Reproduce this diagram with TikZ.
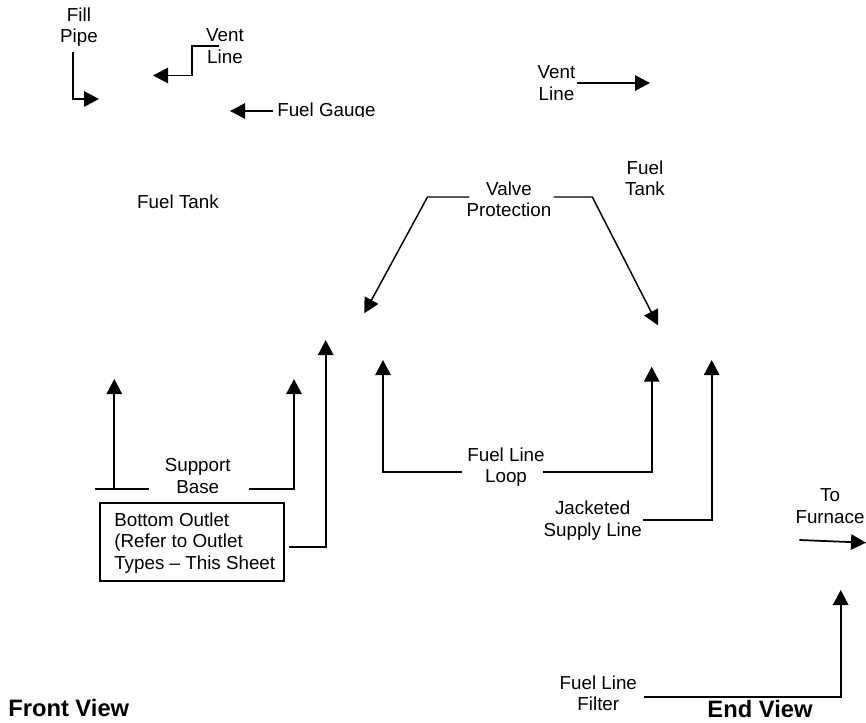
\documentclass[tikz,border=0pt]{standalone}
\usepackage{fontspec}
\setmainfont{Liberation Sans}
\usetikzlibrary{arrows.meta}
\tikzstyle{callout} = [align=center, inner sep=0pt, font=\fontsize{14.1pt}{16pt}\selectfont]
\tikzstyle{viewname} = [inner sep=0pt, font=\fontsize{17.8pt}{19pt}\selectfont\bfseries]
\tikzstyle{lead} = [line width=1.3pt]
\tikzstyle{pointer} = [lead, -{Triangle[length=11.25pt,width=11.5pt]}]
\begin{document}
\begin{tikzpicture}[x=.75pt, y=-.75pt]
	\useasboundingbox (0,0) rectangle (866,723);
	% tank, front view
	\node [callout] (fillpipe) at (79,27) {Fill\\Pipe};
	\node [callout] (ventfront) at (225,46) {Vent\\Line};
	\node [callout] (tankfront) at (178,202) {Fuel Tank};
	\begin{scope}
		\clip (270,95) rectangle (385,117);
		\node [callout, anchor=base west, inner xsep=3pt] (gauge) at (273,117) {Fuel Gauge};
	\end{scope}
	\coordinate (fillbend) at (73,99);
	\coordinate (filltip) at (99,99);
	\coordinate (ventstart) at (219,46);
	\coordinate (ventbend) at (192,46);
	\coordinate (venttip) at (153,75.5);
	\coordinate (gaugetip) at (230,111);
	\draw [pointer] (fillpipe.south -| fillbend) ++(0,5) -- (fillbend) -- (filltip);
	\draw [pointer] (ventstart) -- (ventbend) |- (venttip);
	\draw [pointer] (gauge.west |- gaugetip) -- (gaugetip);
	% tank, end view
	\node [callout] (ventend) at (556.5,83) {Vent\\Line};
	\node [callout] (tankend) at (645,178) {Fuel\\Tank};
	\node [callout] (valve) at (509,199) {Valve\\Protection};
	\coordinate (ventendtip) at (650,83);
	\coordinate (valveleft) at (427.5,197);
	\coordinate (valvelefttip) at (364.3,313.3);
	\coordinate (valveright) at (592.3,197);
	\coordinate (valverighttip) at (658,325.3);
	\draw [pointer] (ventend.east) ++(1,0) -- (ventendtip);
	\draw [pointer, line width=1.1pt] (valve.west |- valveleft) ++(3,0) -- (valveleft) -- (valvelefttip);
	\draw [pointer, line width=1.1pt] (valve.east |- valveright) ++(2,0) -- (valveright) -- (valverighttip);
	% base and outlet
	\node [callout] (support) at (197.7,476) {Support\\Base};
	\node [draw, line width=1.3pt, minimum width=138pt, minimum height=58.5pt, inner sep=0pt] (outletbox) at (192,542) {};
	\node [callout, align=left, anchor=west] (outlet) at (114,543) {Bottom Outlet\\(Refer to Outlet\\Types -- This Sheet};
	\coordinate (supportstub) at (95,488.7);
	\coordinate (supportleft) at (149.3,488.7);
	\coordinate (supportlefttip) at (114.3,379);
	\coordinate (supportright) at (249.3,488.7);
	\coordinate (supportrighttip) at (294,379);
	\coordinate (outletstart) at (289,546.7);
	\coordinate (outlettip) at (325.7,340);
	\draw [lead] (supportstub) -- (supportleft);
	\draw [pointer] (supportlefttip |- supportstub) -- (supportlefttip);
	\draw [pointer] (supportright) -| (supportrighttip);
	\draw [pointer] (outletstart) -| (outlettip);
	% lines under the end view
	\node [callout] (loop) at (506,467) {Fuel Line\\Loop};
	\node [callout] (jacket) at (592.7,520.5) {Jacketed\\Supply Line};
	\node [callout] (furnace) at (830,506) {To\\Furnace};
	\node [callout] (filter) at (598.3,693.3) {Fuel Line\\Filter};
	\coordinate (loopleft) at (462,472.3);
	\coordinate (looplefttip) at (383,360);
	\coordinate (loopright) at (543,472.3);
	\coordinate (looprighttip) at (651.7,366.7);
	\coordinate (jacketstart) at (643.3,520.3);
	\coordinate (jackettip) at (711.7,360);
	\coordinate (furnacestart) at (799.3,540);
	\coordinate (furnacetip) at (866,542.7);
	\coordinate (filterstart) at (644,697.3);
	\coordinate (filtertip) at (840.7,590);
	\draw [pointer] (loopleft) -| (looplefttip);
	\draw [pointer] (loopright) -| (looprighttip);
	\draw [pointer] (jacketstart) -| (jackettip);
	\draw [pointer] (furnacestart) -- (furnacetip);
	\draw [pointer] (filterstart) -| (filtertip);
	% view names
	\node [viewname, anchor=base west] (frontview) at (8,716) {Front View};
	\node [viewname, anchor=base] (endview) at (760,717) {End View};
\end{tikzpicture}
\end{document}
